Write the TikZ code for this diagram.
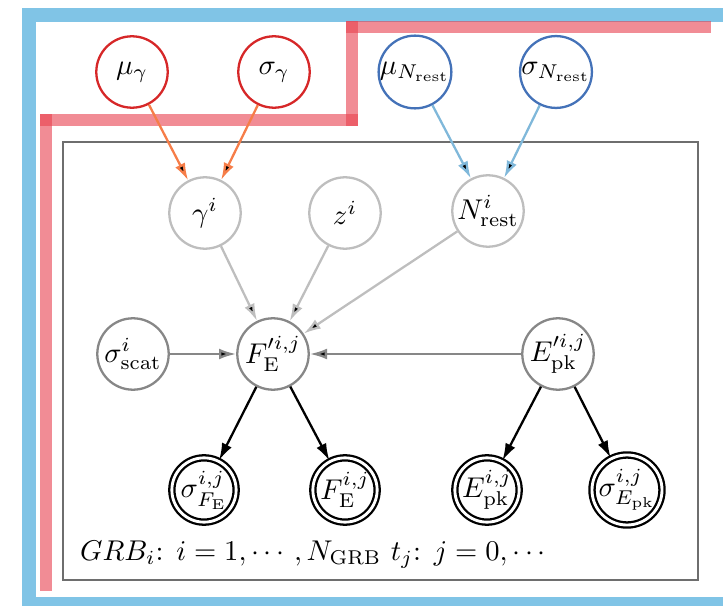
\documentclass[tikz,border=0pt]{standalone}
\usepackage{amsmath}
\usetikzlibrary{arrows.meta}
\definecolor{hyperred}{RGB}{214,39,40}
\definecolor{hyperblue}{RGB}{68,114,184}
\definecolor{orangearr}{RGB}{246,125,72}
\definecolor{bluearr}{RGB}{128,184,218}
\definecolor{lightnode}{RGB}{190,190,190}
\definecolor{midnode}{RGB}{135,135,135}
\definecolor{platecol}{RGB}{110,110,110}
\definecolor{outerblue}{RGB}{128,196,230}
\definecolor{outerred}{RGB}{232,64,78}

\begin{document}
\begin{tikzpicture}[x=0.35pt,y=-0.35pt,
  latent/.style={circle,draw,line width=0.8pt,inner sep=0pt,minimum size=25pt},
  obs/.style={circle,draw=black,double,double distance=1pt,line width=0.8pt,inner sep=0pt,minimum size=22.5pt},
  arr/.style={line width=0.8pt,-{Latex[length=6pt,width=3.8pt,fill=black]}}]
  \useasboundingbox (0,0) rectangle (723,606);
  \clip (0,0) rectangle (723,606);

  % Outer frames
  \draw[outerblue,line width=4.6pt] (29,15) rectangle (760,604);
  \begin{scope}[outerred,line width=4.4pt,opacity=0.6,line cap=rect]
    \draw (46,585) -- (46,120);
    \draw (46,120) -- (352,120);
    \draw (352,120) -- (352,27);
    \draw (352,27) -- (705,27);
  \end{scope}

  % Plate
  \draw[platecol,line width=0.8pt] (63,142) rectangle (698,580);
  \node[anchor=base west] (plate) at (70,560) {$GRB_i$: $i=1,\cdots,N_{\mathrm{GRB}}$ $t_j$: $j=0,\cdots$};

  % Hyperpriors
  \node[latent,draw=hyperred] (mug) at (132,72) {$\mu_\gamma$};
  \node[latent,draw=hyperred] (sg) at (274,72) {$\sigma_\gamma$};
  \node[latent,draw=hyperblue] (mun) at (415,72) {$\mu_{N_{\mathrm{rest}}}$};
  \node[latent,draw=hyperblue] (sn) at (556,72) {$\sigma_{N_{\mathrm{rest}}}$};

  % GRB level
  \node[latent,draw=lightnode] (gam) at (205,213) {$\gamma^i$};
  \node[latent,draw=lightnode] (z) at (345,213) {$z^i$};
  \node[latent,draw=lightnode] (nrest) at (488,211) {$N^i_{\mathrm{rest}}$};

  % Time level
  \node[latent,draw=midnode] (sscat) at (133,354) {$\sigma^i_{\mathrm{scat}}$};
  \node[latent,draw=midnode] (fe) at (273,354) {$F'^{i,j}_{\mathrm{E}}$};
  \node[latent,draw=midnode] (epk) at (558,354) {$E'^{i,j}_{\mathrm{pk}}$};

  % Observed
  \node[obs] (sfeobs) at (204,490) {$\sigma^{i,j}_{F_{\mathrm{E}}}$};
  \node[obs] (feobs) at (345,490) {$F^{i,j}_{\mathrm{E}}$};
  \node[obs] (epkobs) at (487,490) {$E^{i,j}_{\mathrm{pk}}$};
  \node[obs] (sepkobs) at (627,490) {$\sigma^{i,j}_{E_{\mathrm{pk}}}$};

  % Edges
  \draw[arr,orangearr] (mug) -- (gam);
  \draw[arr,orangearr] (sg) -- (gam);
  \draw[arr,bluearr] (mun) -- (nrest);
  \draw[arr,bluearr] (sn) -- (nrest);
  \draw[arr,lightnode] (gam) -- (fe);
  \draw[arr,lightnode] (z) -- (fe);
  \draw[arr,lightnode] (nrest) -- (fe);
  \draw[arr,midnode] (sscat) -- (fe);
  \draw[arr,midnode] (epk) -- (fe);
  \draw[arr,black] (fe) -- (sfeobs);
  \draw[arr,black] (fe) -- (feobs);
  \draw[arr,black] (epk) -- (epkobs);
  \draw[arr,black] (epk) -- (sepkobs);
\end{tikzpicture}
\end{document}
